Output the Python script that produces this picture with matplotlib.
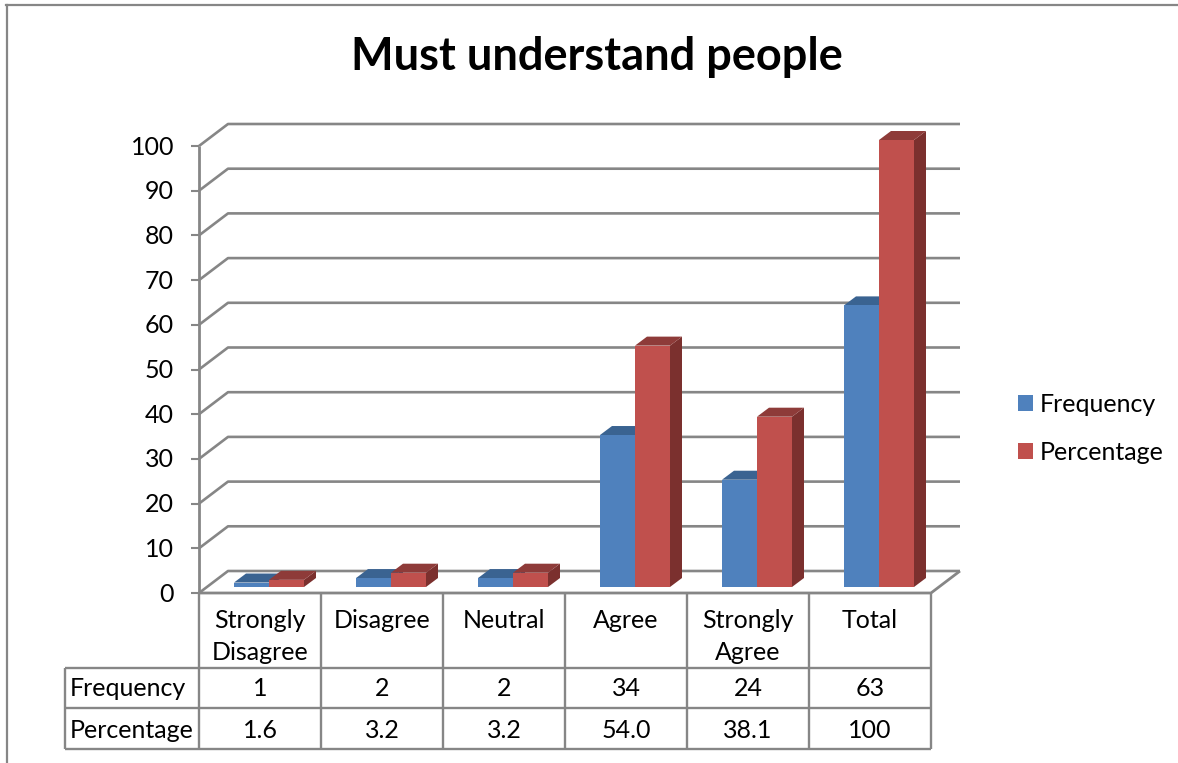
import matplotlib
matplotlib.use("Agg")
import matplotlib.pyplot as plt
from matplotlib.patches import Polygon, Patch

plt.rcParams['font.family'] = ['Lato', 'DejaVu Sans']

categories = ["Strongly\nDisagree", "Disagree", "Neutral", "Agree", "Strongly\nAgree", "Total"]
frequency = [1, 2, 2, 34, 24, 63]
percentage = [1.6, 3.2, 3.2, 54.0, 38.1, 100]
freq_labels = ["1", "2", "2", "34", "24", "63"]
perc_labels = ["1.6", "3.2", "3.2", "54.0", "38.1", "100"]
y_ticks = list(range(0, 101, 10))

W, H = 1178, 763
GREY = "#868686"
FS = 18
# pixel box of the front plane
X0, X1, Y0, Y100 = 199, 931, 593, 146
PX = 6 / (X1 - X0)      # data per pixel, x
PY = 100 / (Y0 - Y100)  # data per pixel, y

fig = plt.figure(figsize=(W / 100, H / 100), dpi=100, facecolor="white")
ax = fig.add_axes([X0 / W, 1 - Y0 / H, (X1 - X0) / W, (Y0 - Y100) / H])
ax.set_xlim(0, 6)
ax.set_ylim(0, 100)
ax.axis("off")


def line(xs, ys, lw=1.7, color=GREY, z=1):
    ax.plot(xs, ys, color=color, lw=lw, clip_on=False, zorder=z, solid_capstyle="butt")


def bar3d(x, val, color, top, side, z):
    w = 35 * PX
    dx, dy = 12 * PX, 9 * PY
    base = 6 * PY
    y0, y1 = base, base + val
    ax.add_patch(Polygon([(x + w, y0), (x + w + dx, y0 + dy), (x + w + dx, y1 + dy), (x + w, y1)],
                         fc=side, ec="none", zorder=z, clip_on=False))
    ax.add_patch(Polygon([(x, y1), (x + dx, y1 + dy), (x + w + dx, y1 + dy), (x + w, y1)],
                         fc=top, ec="none", zorder=z, clip_on=False))
    ax.add_patch(Polygon([(x, y0), (x + w, y0), (x + w, y1), (x, y1)],
                         fc=color, ec="none", zorder=z + 0.5, clip_on=False))


# walls and gridlines
wall_dx, wall_dy = 29 * PX, 22 * PY
for t in y_ticks:
    line([0, wall_dx, 6 + wall_dx], [t, t + wall_dy, t + wall_dy], lw=1.9)
    line([-8 * PX, 0], [t, t], lw=1.5)
    ax.text(-25 * PX, t - 1 * PY, str(t), ha="right", va="center", fontsize=FS, color="black")
line([0, 0], [100, 0], lw=2)
line([0, 6, 6 + wall_dx], [0, 0, wall_dy], lw=2)

# bars
for i in range(6):
    mid = i + 0.5 + 9 * PX
    bar3d(mid - 35 * PX, frequency[i], "#4f81bd", "#3a6391", "#2f5480", 3 + i)
    bar3d(mid, percentage[i], "#c0504d", "#8e3b39", "#7b302e", 3.2 + i)

# data table
row_top = -(668 - Y0) * PY
row_mid = -(708 - Y0) * PY
row_bot = -(749 - Y0) * PY
label_left = -(X0 - 65) * PX
for i in range(7):
    line([i, i], [0, row_bot])
line([label_left, 6], [row_top, row_top])
line([label_left, 6], [row_mid, row_mid])
line([label_left, 6], [row_bot, row_bot])
line([label_left, label_left], [row_top, row_bot])

for i in range(6):
    for j, s in enumerate(categories[i].split("\n")):
        ax.text(i + 0.5, -(620 + 33 * j - Y0) * PY, s, ha="center", va="center", fontsize=FS, color="black")
    ax.text(i + 0.5, -(689 - Y0) * PY, freq_labels[i], ha="center", va="center", fontsize=FS, color="black")
    ax.text(i + 0.5, -(730 - Y0) * PY, perc_labels[i], ha="center", va="center", fontsize=FS, color="black")
ax.text(label_left + 5 * PX, -(689 - Y0) * PY, "Frequency", ha="left", va="center", fontsize=FS, color="black")
ax.text(label_left + 5 * PX, -(730 - Y0) * PY, "Percentage", ha="left", va="center", fontsize=FS, color="black")

# title
fig.text(597 / W, 1 - 57 / H, "Must understand people", ha="center", va="center",
         fontsize=32.5, fontweight="bold", color="black")

# legend
handles = [Patch(fc="#4f81bd", label="Frequency"), Patch(fc="#c0504d", label="Percentage")]
fig.legend(handles=handles, loc="center left", bbox_to_anchor=(995.5 / W, 1 - 428 / H), frameon=False,
           fontsize=FS, handlelength=0.6, handleheight=0.6, handletextpad=0.28, labelspacing=1.0)

# outer chart border
fig.add_artist(plt.Line2D([7 / W, 7 / W], [0, 1 - 5 / H], color=GREY, lw=1.6))
fig.add_artist(plt.Line2D([6 / W, 1], [1 - 5 / H, 1 - 5 / H], color=GREY, lw=1.6))

fig.savefig("out.png", dpi=100)
